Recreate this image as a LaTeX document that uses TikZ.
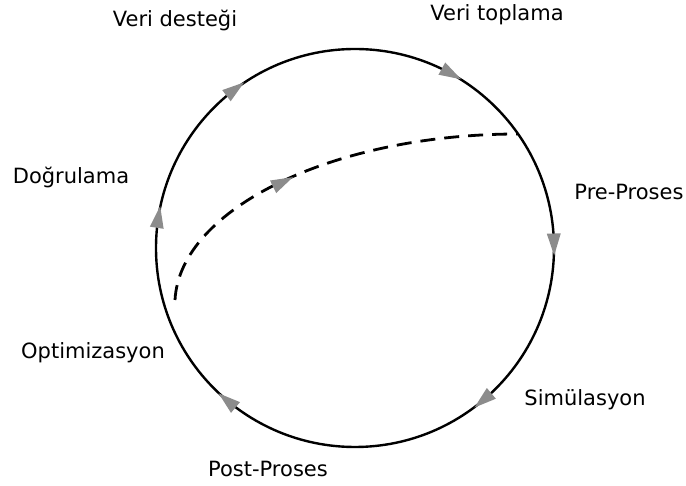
\documentclass[tikz,border=0pt]{standalone}
\usepackage{fontspec}
\setmainfont{DejaVu Sans}
\usepackage{tikz}
\usetikzlibrary{calc,positioning}
\definecolor{flowgray}{gray}{0.55}
\tikzset{
  stage/.style={font=\fontsize{10.5}{12}\selectfont, inner sep=0pt},
  flowhead/.style={fill=flowgray}
}
\def\R{199}

\begin{document}
\begin{tikzpicture}[x=0.5pt,y=0.5pt]
\useasboundingbox (-355,-238) rectangle (331,248);
\draw [line width=1.2pt] (0,0) circle (\R);
% iteration path back to the data collection
\draw [line width=1.4pt, dash pattern=on 7.5pt off 4.5pt] (-180,-52) .. controls (-175,40) and (-20,114) .. (163,114);
\fill [flowhead, shift={(-72,66)}, rotate=26] (11,0) -- (-11,7) -- (-11,-7) -- cycle;
\foreach\ang in {61,1,-50,-130,171,127}
  \fill [flowhead, shift={(\ang:\R)}, rotate=\ang-90] (11,0) -- (-11,7) -- (-11,-7) -- cycle;

\node [stage] (destek) at (-180,228) {Veri desteği};
\node [stage] (toplama) at (142,233) {Veri toplama};
\node [stage] (dogrulama) at (-284,71) {Doğrulama};
\node [stage] (pre) at (274,56) {Pre-Proses};
\node [stage] (optim) at (-262,-105) {Optimizasyon};
\node [stage] (simul) at (230,-152) {Simülasyon};
\node [stage] (post) at (-87,-221) {Post-Proses};
\end{tikzpicture}
\end{document}
